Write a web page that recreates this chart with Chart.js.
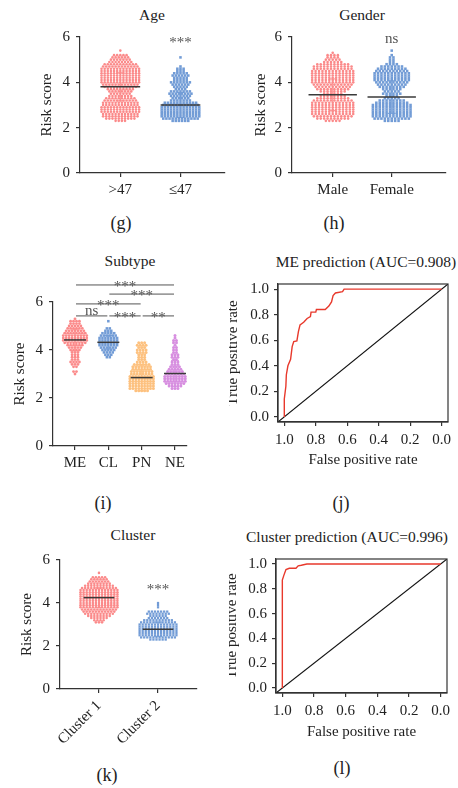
<!DOCTYPE html>
<html>
<head>
<meta charset="utf-8">
<title>Risk score panels</title>
<script src="https://cdn.jsdelivr.net/npm/chart.js"></script>
<style>
  html, body { margin: 0; padding: 0; background: #fff; overflow: hidden; }
  body { width: 458px; height: 788px; position: relative; font-family: "Liberation Serif", "Times New Roman", serif; color: #222; }
  canvas { position: absolute; }
  .lbl { position: absolute; transform: translate(-50%, -50%); white-space: nowrap; }
  .ttl { font-size: 15.5px; }
  .ttl.left { transform: translate(0, -50%); }
  .tag { font-size: 18px; }
</style>
</head>
<body>
  <div class="lbl ttl" style="left:152px;top:15px">Age</div>
  <div class="lbl ttl" style="left:362px;top:15px">Gender</div>
  <div class="lbl ttl" style="left:130px;top:261px">Subtype</div>
  <div class="lbl ttl" style="left:366px;top:262px">ME prediction (AUC=0.908)</div>
  <div class="lbl ttl" style="left:133px;top:535px">Cluster</div>
  <div class="lbl ttl left" style="left:246px;top:537px">Cluster prediction (AUC=0.996)</div>

  <div class="lbl tag" style="left:121px;top:223px">(g)</div>
  <div class="lbl tag" style="left:334px;top:223px">(h)</div>
  <div class="lbl tag" style="left:103px;top:503px">(i)</div>
  <div class="lbl tag" style="left:341px;top:503px">(j)</div>
  <div class="lbl tag" style="left:107px;top:775px">(k)</div>
  <div class="lbl tag" style="left:342px;top:768px">(l)</div>

  <canvas id="age" width="229" height="188" style="left:0;top:22px"></canvas>
  <canvas id="gender" width="229" height="188" style="left:229px;top:22px"></canvas>
  <canvas id="subtype" width="229" height="210" style="left:0;top:270px"></canvas>
  <canvas id="meRoc" width="229" height="210" style="left:229px;top:270px"></canvas>
  <canvas id="cluster" width="229" height="215" style="left:0;top:545px"></canvas>
  <canvas id="clusterRoc" width="229" height="200" style="left:229px;top:545px"></canvas>

<script>
// risk score bins (step 0.1) shared by every dot plot
const riskBins = [2.3, 2.4, 2.5, 2.6, 2.7, 2.8, 2.9, 3.0, 3.1, 3.2, 3.3, 3.4, 3.5, 3.6, 3.7, 3.8,
                  3.9, 4.0, 4.1, 4.2, 4.3, 4.4, 4.5, 4.6, 4.7, 4.8, 4.9, 5.0, 5.1, 5.2, 5.3, 5.4];

// number of samples falling in each bin
const ageOver47   = [4, 10, 12, 12, 13, 13, 13, 12, 12, 11, 10, 8, 7, 8, 9, 11, 12, 13, 13, 13, 13, 13, 13, 13, 12, 11, 8, 7, 6, 5, 0, 1];
const ageUpTo47   = [6, 12, 13, 13, 13, 13, 13, 12, 11, 7, 6, 7, 8, 7, 4, 5, 6, 7, 5, 5, 6, 5, 3, 3, 1, 0, 0, 0, 1, 0, 0, 0];
const genderMale  = [5, 10, 12, 13, 13, 13, 13, 13, 13, 12, 10, 8, 6, 8, 10, 11, 12, 13, 13, 13, 13, 13, 13, 12, 12, 10, 6, 5, 4, 4, 1, 0];
const genderFemale= [5, 11, 12, 12, 12, 12, 12, 12, 10, 8, 5, 4, 6, 5, 6, 8, 9, 10, 11, 11, 11, 11, 10, 9, 7, 4, 2, 2, 2, 1, 0, 1];
const subtypeME   = [0, 0, 0, 0, 0, 0, 0, 1, 2, 0, 2, 3, 4, 3, 3, 3, 3, 4, 5, 6, 8, 9, 9, 9, 8, 7, 6, 5, 4, 4, 1, 0];
const subtypeCL   = [0, 0, 0, 0, 0, 0, 0, 0, 0, 0, 0, 0, 0, 0, 2, 3, 4, 5, 6, 7, 7, 7, 7, 6, 5, 3, 2, 0, 0, 1, 0, 0];
const subtypePN   = [5, 9, 9, 9, 9, 9, 9, 8, 8, 7, 7, 6, 4, 3, 3, 3, 4, 4, 3, 4, 3, 0, 0, 0, 0, 0, 0, 0, 0, 0, 0, 0];
const subtypeNE   = [0, 3, 5, 7, 8, 8, 8, 7, 6, 5, 4, 3, 3, 2, 3, 3, 2, 2, 2, 1, 2, 2, 1, 1, 0, 0, 0, 0, 0, 0, 0, 0];
const clusterOne  = [0, 0, 0, 0, 0, 0, 0, 0, 3, 4, 6, 8, 10, 11, 12, 13, 13, 13, 13, 13, 13, 13, 13, 13, 12, 10, 8, 7, 6, 5, 0, 1];
const clusterTwo  = [6, 12, 13, 13, 13, 13, 13, 13, 12, 10, 7, 6, 8, 7, 0, 1, 1, 1, 0, 0, 0, 0, 0, 0, 0, 0, 0, 0, 0, 0, 0, 0];

// group mean and standard deviation
const ageMean = [3.80, 3.00],            ageSd = [0.62, 0.55];
const genderMean = [3.45, 3.35],         genderSd = [0.70, 0.72];
const subtypeMean = [4.42, 4.32, 2.85, 3.02], subtypeSd = [0.45, 0.28, 0.55, 0.55];
const clusterMean = [4.25, 2.78],        clusterSd = [0.45, 0.33];

const ageCats = ['>47', '\u226447'];
const genderCats = ['Male', 'Female'];
const subtypeCats = ['ME', 'CL', 'PN', 'NE'];
const clusterCats = ['Cluster 1', 'Cluster 2'];
const riskTicks = [0, 2, 4, 6];

// ROC curves (x axis runs 1.0 -> 0.0)
const meFpr = [1.0, 1.0, 0.99, 0.987, 0.977, 0.96, 0.95, 0.94, 0.92, 0.91, 0.90, 0.877, 0.855, 0.834, 0.83, 0.80, 0.796, 0.74, 0.717, 0.70, 0.69, 0.675, 0.63, 0.62, 0.0];
const meTpr = [0, 0.14, 0.24, 0.33, 0.40, 0.45, 0.55, 0.59, 0.595, 0.67, 0.72, 0.74, 0.77, 0.785, 0.82, 0.82, 0.84, 0.84, 0.867, 0.90, 0.95, 0.97, 0.98, 1.0, 1.0];
const clusterFpr = [1.0, 1.0, 0.99, 0.977, 0.956, 0.914, 0.90, 0.88, 0.845, 0.0];
const clusterTpr = [0, 0.87, 0.91, 0.955, 0.965, 0.965, 0.985, 0.99, 1.0, 1.0];
const rateTicks = [0, 0.2, 0.4, 0.6, 0.8, 1.0];

const PINK = '#fb8a8a', BLUE = '#729cd6', ORANGE = '#fdc17f', PURPLE = '#d78ee0';
const INK = '#333';
const FS = 15;

Chart.defaults.font.family = '"Liberation Serif", "Times New Roman", serif';
Chart.defaults.color = INK;

// spread each bin's samples sideways around the category centre
function swarm(counts, cat, pitch) {
  const pts = [];
  counts.forEach((n, i) => {
    for (let j = 0; j < n; j++) {
      pts.push({ x: cat + (j - (n - 1) / 2) * pitch, y: riskBins[i] });
    }
  });
  return pts;
}

const meanSdPlugin = {
  id: 'meanSd',
  afterDatasetsDraw(chart) {
    const o = chart.options.plugins.meanSd;
    if (!o) return;
    const { ctx, scales: { x, y } } = chart;
    ctx.save();
    o.mean.forEach((m, i) => {
      const cx = x.getPixelForValue(i + 1);
      const half = x.getPixelForValue(i + 1 + o.half) - cx;
      const top = y.getPixelForValue(m + o.sd[i]);
      const bot = y.getPixelForValue(m - o.sd[i]);
      ctx.strokeStyle = o.colors[i];
      ctx.lineWidth = 1;
      ctx.beginPath();
      ctx.moveTo(cx, top); ctx.lineTo(cx, bot);
      ctx.moveTo(cx - 4, top); ctx.lineTo(cx + 4, top);
      ctx.moveTo(cx - 4, bot); ctx.lineTo(cx + 4, bot);
      ctx.stroke();
      const ym = y.getPixelForValue(m);
      ctx.strokeStyle = '#3a3a3a';
      ctx.lineWidth = 1.5;
      ctx.beginPath();
      ctx.moveTo(cx - half, ym); ctx.lineTo(cx + half, ym);
      ctx.stroke();
    });
    ctx.restore();
  }
};

// significance marks and comparison brackets
const notesPlugin = {
  id: 'notes',
  afterDraw(chart) {
    const o = chart.options.plugins.notes;
    if (!o) return;
    const { ctx, scales: { x, y } } = chart;
    ctx.save();
    ctx.fillStyle = '#555';
    ctx.strokeStyle = '#555';
    ctx.lineWidth = 1;
    ctx.font = '15px "Liberation Serif", serif';
    ctx.textAlign = 'center';
    (o.brackets || []).forEach(b => {
      const x0 = x.getPixelForValue(b.from) + 1, x1 = x.getPixelForValue(b.to) - 1;
      const yy = y.getPixelForValue(b.level);
      ctx.beginPath();
      ctx.moveTo(x0, yy); ctx.lineTo(x1, yy);
      ctx.stroke();
      ctx.textBaseline = 'alphabetic';
      ctx.fillText(b.text, (x0 + x1) / 2, yy + (b.text.startsWith('*') ? 6 : -1));
    });
    (o.marks || []).forEach(m => {
      ctx.textBaseline = 'middle';
      ctx.fillText(m.text, x.getPixelForValue(m.cat), y.getPixelForValue(m.y));
    });
    ctx.restore();
  }
};

const framePlugin = {
  id: 'frame',
  afterDraw(chart) {
    if (!chart.options.plugins.frame) return;
    const { ctx, chartArea: a } = chart;
    ctx.save();
    ctx.strokeStyle = INK;
    ctx.lineWidth = 1.2;
    ctx.strokeRect(a.left, a.top, a.right - a.left, a.bottom - a.top);
    ctx.restore();
  }
};

function axisStyle() {
  return {
    grid: { drawOnChartArea: false, tickLength: 4, color: INK, lineWidth: 1.2 },
    border: { color: INK, width: 1.2 }
  };
}

function dotPanel(id, c) {
  const datasets = c.groups.map((g, i) => ({
    data: swarm(g.counts, i + 1, c.pitch),
    pointStyle: g.shape,
    pointRadius: g.r,
    backgroundColor: g.color,
    borderWidth: 0
  }));
  new Chart(document.getElementById(id), {
    type: 'scatter',
    data: { datasets },
    options: {
      responsive: false,
      animation: false,
      layout: { padding: c.pad },
      plugins: {
        legend: { display: false },
        tooltip: { enabled: false },
        meanSd: { mean: c.mean, sd: c.sd, half: c.half, colors: c.groups.map(g => g.color) },
        notes: { marks: c.marks, brackets: c.brackets }
      },
      scales: {
        x: {
          type: 'linear', min: c.xMin, max: c.xMax,
          afterBuildTicks: s => { s.ticks = c.cats.map((_, i) => ({ value: i + 1 })); },
          afterFit: s => { s.height = c.xHeight; },
          ...axisStyle(),
          ticks: {
            callback: v => c.cats[v - 1], autoSkip: false, color: '#222',
            font: { size: FS }, padding: 4,
            minRotation: c.rot || 0, maxRotation: c.rot || 0
          }
        },
        y: {
          min: 0, max: 6,
          afterBuildTicks: s => { s.ticks = riskTicks.map(v => ({ value: v })); },
          afterFit: s => { s.width = c.yWidth; },
          ...axisStyle(),
          ticks: { font: { size: FS }, padding: 6, color: '#222' },
          title: { display: true, text: 'Risk score', font: { size: FS }, color: '#222', padding: { top: 4, bottom: 4 } }
        }
      }
    },
    plugins: [meanSdPlugin, notesPlugin]
  });
}

function rocPanel(id, c) {
  const pad = 0.04;
  new Chart(document.getElementById(id), {
    type: 'scatter',
    data: {
      datasets: [
        {
          data: c.fpr.map((v, i) => ({ x: v, y: c.tpr[i] })),
          showLine: true, pointRadius: 0, borderColor: '#e8392c', borderWidth: 1.4
        },
        {
          // chance line, corner to corner
          data: [{ x: 1 + pad, y: -pad }, { x: -pad, y: 1 + pad }],
          showLine: true, pointRadius: 0, borderColor: '#111', borderWidth: 1.1
        }
      ]
    },
    options: {
      responsive: false,
      animation: false,
      layout: { padding: c.pad },
      plugins: { legend: { display: false }, tooltip: { enabled: false }, frame: true },
      scales: {
        x: {
          type: 'linear', reverse: true, min: -pad, max: 1 + pad,
          afterBuildTicks: s => { s.ticks = rateTicks.map(v => ({ value: v })); },
          afterFit: s => { s.height = c.xHeight; },
          ...axisStyle(),
          ticks: { callback: v => v.toFixed(1), font: { size: FS }, padding: 5, color: '#222', maxRotation: 0 },
          title: { display: true, text: 'False positive rate', font: { size: FS }, color: '#222', padding: { top: 4, bottom: 4 } }
        },
        y: {
          min: -pad, max: 1 + pad,
          afterBuildTicks: s => { s.ticks = rateTicks.map(v => ({ value: v })); },
          afterFit: s => { s.width = c.yWidth; },
          ...axisStyle(),
          ticks: { callback: v => v.toFixed(1), font: { size: FS }, padding: 5, color: '#222' },
          title: { display: true, text: 'True positive rate', font: { size: FS }, color: '#222', padding: { top: 4, bottom: 4 } }
        }
      }
    },
    plugins: [framePlugin]
  });
}

dotPanel('age', {
  cats: ageCats,
  groups: [
    { counts: ageOver47, color: PINK, shape: 'circle', r: 1.3 },
    { counts: ageUpTo47, color: BLUE, shape: 'rect', r: 1.8 }
  ],
  mean: ageMean, sd: ageSd, half: 0.33, pitch: 0.052,
  xMin: 0.33, xMax: 2.74,
  pad: { left: 34, top: 6, right: 2, bottom: 0 }, yWidth: 46, xHeight: 37,
  marks: [{ cat: 2, y: 5.75, text: '***' }]
});

dotPanel('gender', {
  cats: genderCats,
  groups: [
    { counts: genderMale, color: PINK, shape: 'circle', r: 1.3 },
    { counts: genderFemale, color: BLUE, shape: 'rect', r: 1.8 }
  ],
  mean: genderMean, sd: genderSd, half: 0.41, pitch: 0.058,
  xMin: 0.31, xMax: 2.92,
  pad: { left: 19, top: 11, right: 12, bottom: 0 }, yWidth: 44, xHeight: 37,
  marks: [{ cat: 2, y: 5.92, text: 'ns' }]
});

dotPanel('subtype', {
  cats: subtypeCats,
  groups: [
    { counts: subtypeME, color: PINK, shape: 'circle', r: 1.4 },
    { counts: subtypeCL, color: BLUE, shape: 'rect', r: 1.8 },
    { counts: subtypePN, color: ORANGE, shape: 'circle', r: 1.5 },
    { counts: subtypeNE, color: PURPLE, shape: 'circle', r: 1.5 }
  ],
  mean: subtypeMean, sd: subtypeSd, half: 0.33, pitch: 0.088,
  xMin: 0.34, xMax: 4.36,
  pad: { left: 7, top: 32, right: 42, bottom: 0 }, yWidth: 46, xHeight: 34,
  brackets: [
    { from: 1, to: 4, level: 6.71, text: '***' },
    { from: 2, to: 4, level: 6.33, text: '***' },
    { from: 1, to: 3, level: 5.92, text: '***' },
    { from: 1, to: 2, level: 5.42, text: 'ns' },
    { from: 2, to: 3, level: 5.42, text: '***' },
    { from: 3, to: 4, level: 5.42, text: '**' }
  ]
});

dotPanel('cluster', {
  cats: clusterCats,
  groups: [
    { counts: clusterOne, color: PINK, shape: 'circle', r: 1.3 },
    { counts: clusterTwo, color: BLUE, shape: 'rect', r: 1.6 }
  ],
  mean: clusterMean, sd: clusterSd, half: 0.26, pitch: 0.052,
  xMin: 0.34, xMax: 2.66, rot: 45,
  pad: { left: 14, top: 8, right: 32, bottom: 0 }, yWidth: 46, xHeight: 71,
  marks: [{ cat: 2, y: 4.59, text: '***' }]
});

rocPanel('meRoc', {
  fpr: meFpr, tpr: meTpr,
  pad: { left: -9, top: 8, right: 10, bottom: 7 }, yWidth: 58, xHeight: 51
});

rocPanel('clusterRoc', {
  fpr: clusterFpr, tpr: clusterTpr,
  pad: { left: -10, top: 4, right: 11, bottom: 0 }, yWidth: 57, xHeight: 52
});
</script>
</body>
</html>
